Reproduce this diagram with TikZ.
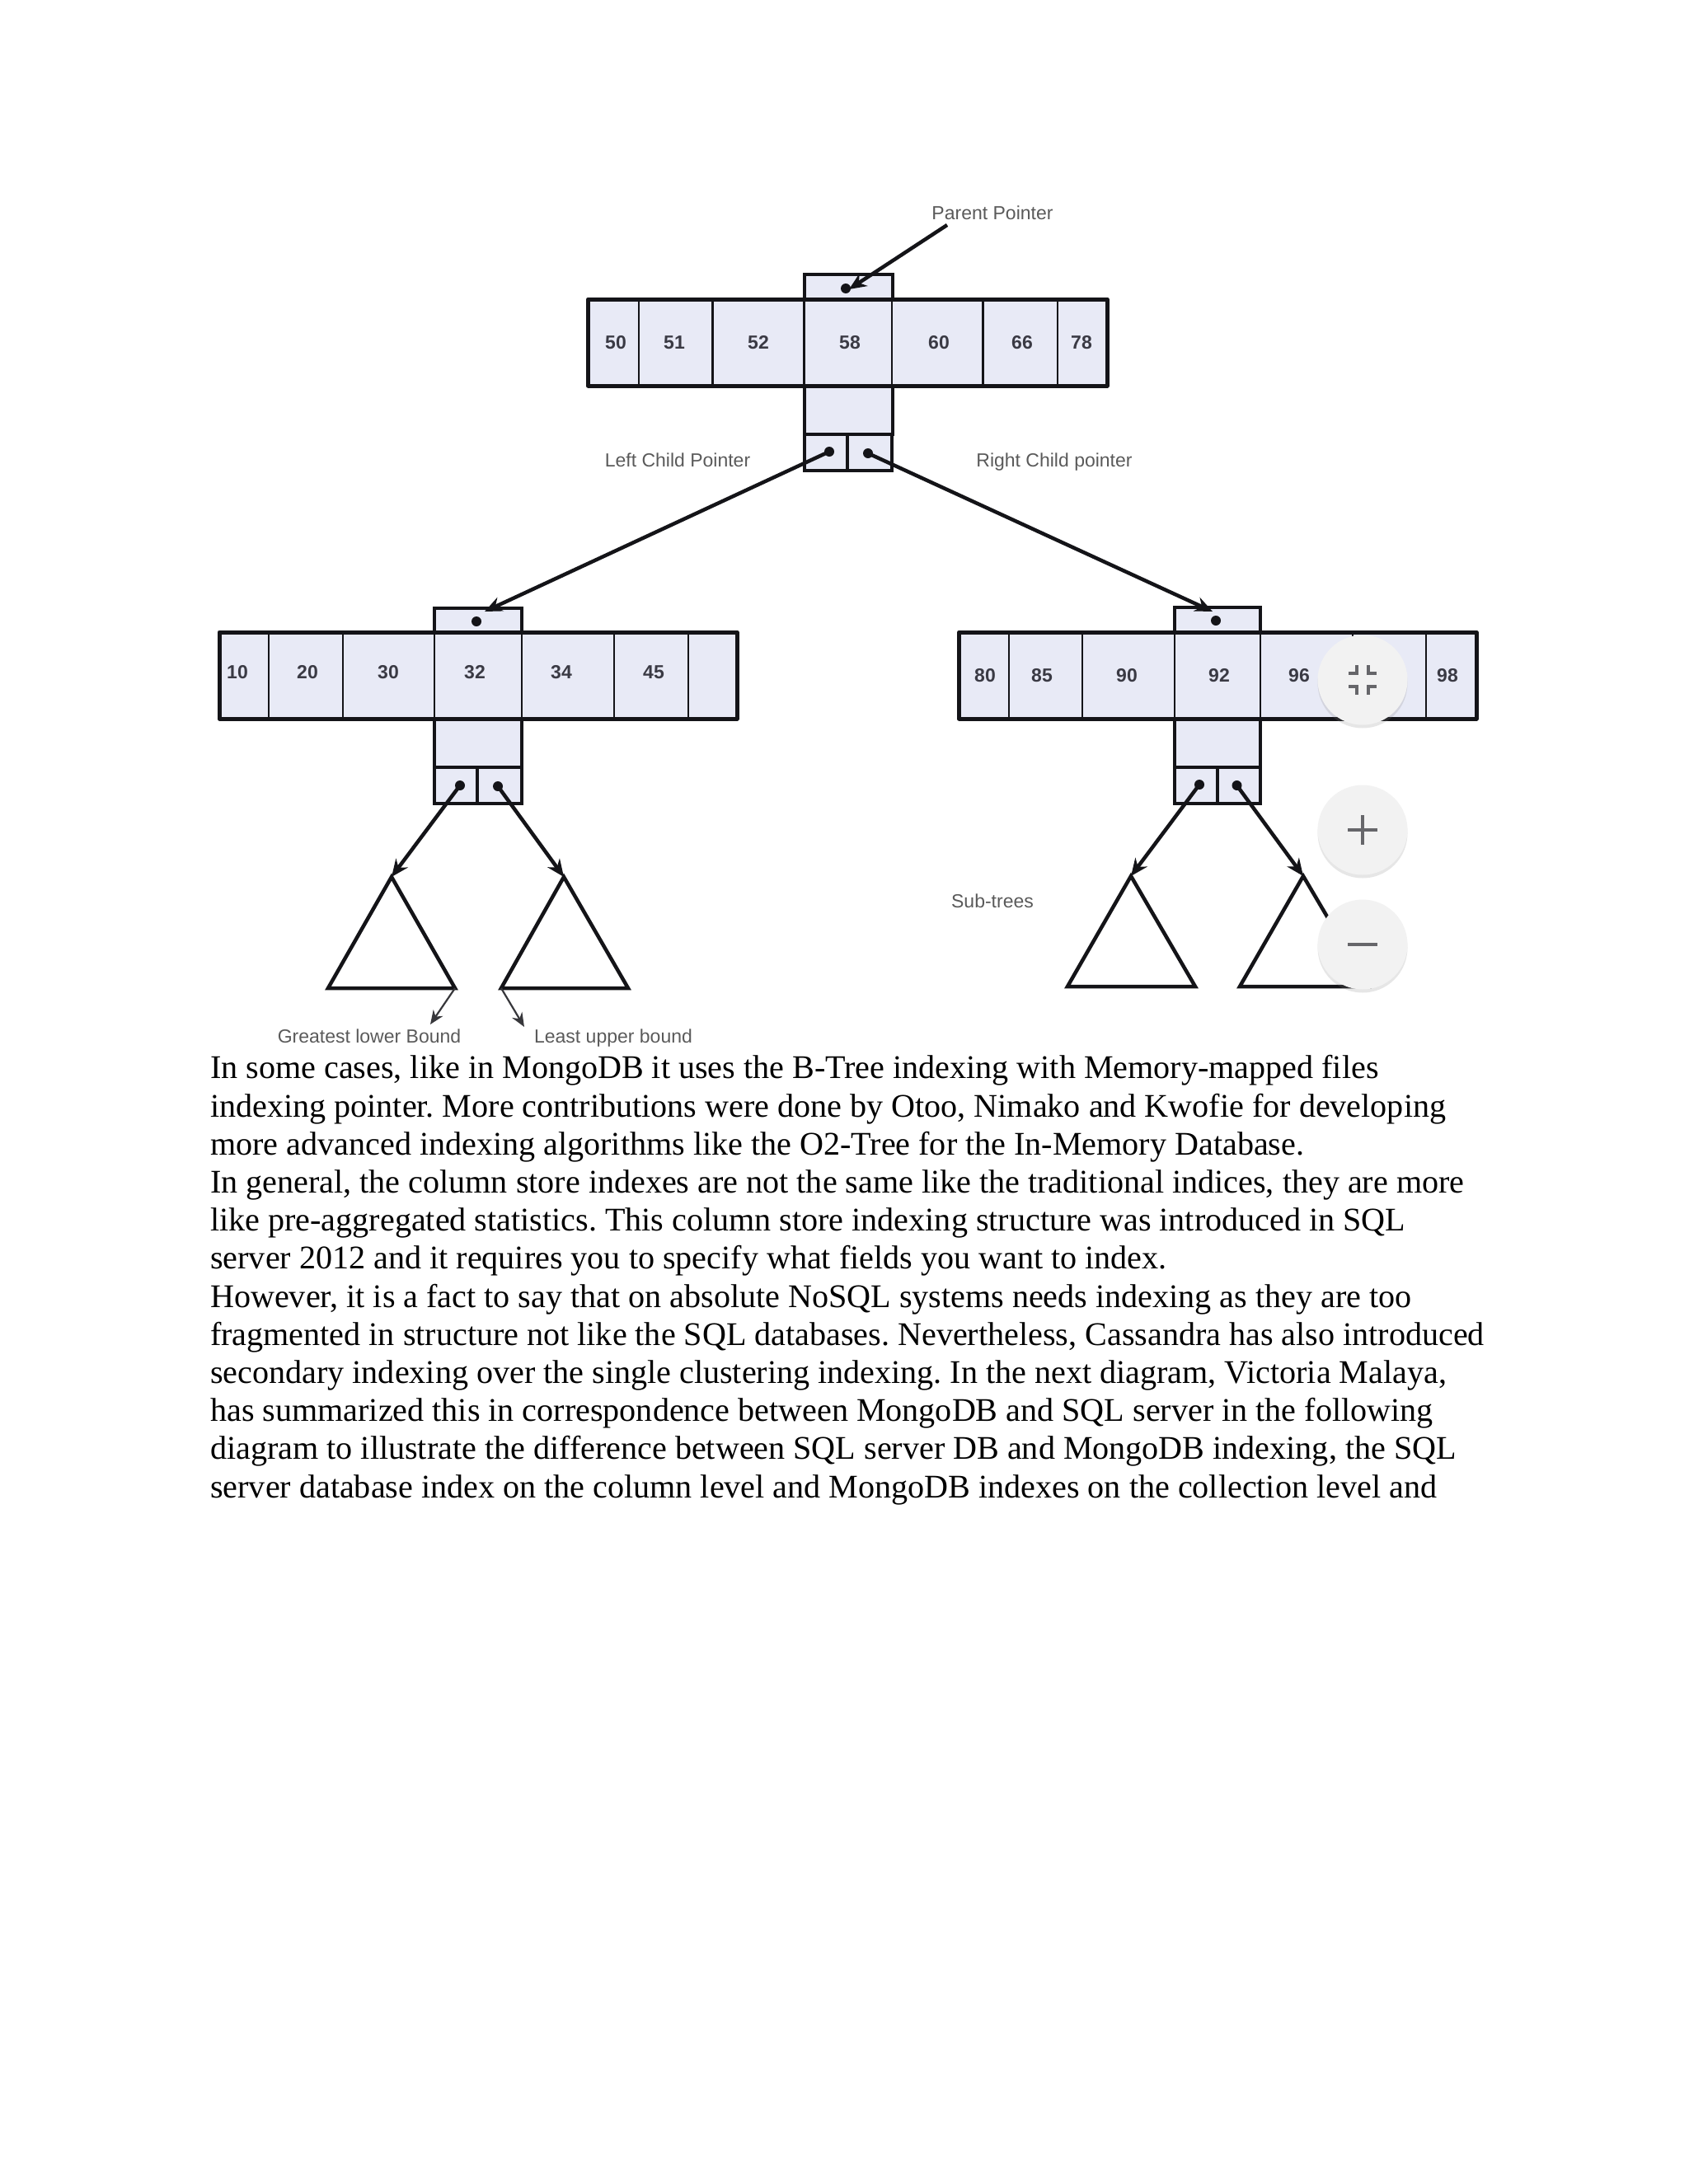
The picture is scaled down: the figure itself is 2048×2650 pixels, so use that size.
\documentclass[tikz,border=0pt]{standalone}
\usepackage{fontspec}
\setmainfont{Liberation Serif}
\newfontfamily\labelfont{Liberation Sans}
\usetikzlibrary{arrows.meta,shadows}
\frenchspacing

\definecolor{cellfill}{HTML}{E8EAF6}
\definecolor{inkline}{HTML}{141418}
\definecolor{numtext}{HTML}{3A3A44}
\definecolor{captext}{HTML}{5A5A5A}
\definecolor{btnfill}{HTML}{F2F2F2}
\definecolor{btnicon}{HTML}{66666A}

\begin{document}
\begin{tikzpicture}[
  x=1pt,y=-1pt,
  cell/.style={rectangle,draw=inkline,fill=cellfill,line width=2.5pt,minimum height=105pt,inner sep=0pt,outer sep=0pt},
  num/.style={inner sep=0pt,text=numtext,font=\labelfont\bfseries\fontsize{23}{28}\selectfont},
  stubbox/.style={rectangle,draw=inkline,fill=cellfill,line width=4pt,inner sep=0pt,outer sep=0pt},
  frame/.style={draw=inkline,line width=5pt,line join=round},
  dot/.style={circle,fill=inkline,inner sep=0pt,minimum size=12pt},
  caption/.style={text=captext,inner sep=0pt,font=\labelfont\fontsize{23}{28}\selectfont},
  arrow/.style={-{Stealth[length=21pt,width=18pt]},draw=inkline,line width=4.5pt},
  smallarrow/.style={-{Stealth[length=17pt,width=14pt]},draw=inkline!85,line width=2.2pt},
  subtree/.style={draw=inkline,line width=4.5pt,line join=miter},
  button/.style={circle,fill=btnfill,minimum size=109pt,inner sep=0pt,drop shadow={shadow xshift=0pt,shadow yshift=-4pt,opacity=.2}},
  icon/.style={draw=btnicon,line width=4pt}
]

\useasboundingbox (0,0) rectangle (2048,2650);

% Root node
\node[stubbox,minimum width=107pt,minimum height=30pt] (rtop) at (1029,348) {};
\node[stubbox,minimum width=107pt,minimum height=59pt] (rmid) at (1029,497.5) {};
\node[stubbox,minimum width=53pt,minimum height=44pt] (rcl) at (1002,549) {};
\node[stubbox,minimum width=54pt,minimum height=44pt] (rcr) at (1055,549) {};
\node[cell,minimum width=62pt] (r0) at (744.5,415.5) {};
\node[cell,minimum width=89pt] (r1) at (819.5,415.5) {};
\node[cell,minimum width=111pt] (r2) at (920,415.5) {};
\node[cell,minimum width=107pt] (r3) at (1029,415.5) {};
\node[cell,minimum width=110pt] (r4) at (1137,415.5) {};
\node[cell,minimum width=91pt] (r5) at (1238,415.5) {};
\node[cell,minimum width=60pt] (r6) at (1313,415.5) {};
\draw[frame] (r0.north west) rectangle (r6.south east);

% Left child
\node[stubbox,minimum width=106pt,minimum height=29pt] (ltop) at (580,752.5) {};
\node[stubbox,minimum width=106pt,minimum height=59pt] (lmid) at (580,901.5) {};
\node[stubbox,minimum width=52pt,minimum height=44pt] (lcl) at (553,953) {};
\node[stubbox,minimum width=54pt,minimum height=44pt] (lcr) at (606,953) {};
\node[cell,minimum width=60pt] (l0) at (296,819.5) {};
\node[cell,minimum width=90pt] (l1) at (371,819.5) {};
\node[cell,minimum width=111pt] (l2) at (471.5,819.5) {};
\node[cell,minimum width=106pt] (l3) at (580,819.5) {};
\node[cell,minimum width=112pt] (l4) at (689,819.5) {};
\node[cell,minimum width=90pt] (l5) at (790,819.5) {};
\node[cell,minimum width=59pt] (l6) at (864.5,819.5) {};
\draw[frame] (l0.north west) rectangle (l6.south east);

% Right child
\node[stubbox,minimum width=104pt,minimum height=30pt] (htop) at (1477,752) {};
\node[stubbox,minimum width=104pt,minimum height=59pt] (hmid) at (1477,901.5) {};
\node[stubbox,minimum width=52pt,minimum height=44pt] (hcl) at (1451,953) {};
\node[stubbox,minimum width=52pt,minimum height=44pt] (hcr) at (1503,953) {};
\node[cell,minimum width=60.5pt] (h0) at (1193.75,819.5) {};
\node[cell,minimum width=89pt] (h1) at (1268.5,819.5) {};
\node[cell,minimum width=112pt] (h2) at (1369,819.5) {};
\node[cell,minimum width=104pt] (h3) at (1477,819.5) {};
\node[cell,minimum width=112pt] (h4) at (1585,819.5) {};
\node[cell,minimum width=89pt] (h5) at (1685.5,819.5) {};
\node[cell,minimum width=61pt] (h6) at (1760.5,819.5) {};
\draw[frame] (h0.north west) rectangle (h6.south east);

% Cell numbers
\foreach \v/\x in {50/747,51/818,52/920,58/1031,60/1139,66/1240,78/1312}
  \node[num] (n\v) at (\x,416) {\v};
\foreach \v/\x in {10/288,20/373,30/471,32/576,34/681,45/793}
  \node[num] (n\v) at (\x,816) {\v};
\foreach \v/\x in {80/1195,85/1264,90/1367,92/1479,96/1576,98/1756}
  \node[num] (n\v) at (\x,820) {\v};

% Pointer dots
\node[dot] (rp) at (1026,350) {};
\node[dot] (rl) at (1006,548) {};
\node[dot] (rr) at (1053,550) {};
\node[dot] (lp) at (578,754) {};
\node[dot] (ll) at (558,953) {};
\node[dot] (lr) at (604,954) {};
\node[dot] (hp) at (1475,753) {};
\node[dot] (hl) at (1455,952) {};
\node[dot] (hr) at (1500.5,953) {};

% Sub-trees
\coordinate (t1a) at (475,1064);
\coordinate (t1l) at (398,1199);
\coordinate (t1r) at (552,1199);
\coordinate (t2a) at (684,1064);
\coordinate (t2l) at (608,1199);
\coordinate (t2r) at (762,1199);
\coordinate (t3a) at (1372,1063);
\coordinate (t3l) at (1295,1197);
\coordinate (t3r) at (1450,1197);
\coordinate (t4a) at (1581,1063);
\coordinate (t4l) at (1504,1197);
\coordinate (t4r) at (1660,1197);
\draw[subtree] (t1a) -- (t1l) -- (t1r) -- cycle;
\draw[subtree] (t2a) -- (t2l) -- (t2r) -- cycle;
\draw[subtree] (t3a) -- (t3l) -- (t3r) -- cycle;
\draw[subtree] (t4a) -- (t4l) -- (t4r) -- cycle;

% Arrows
\coordinate (ppstart) at (1149,273);
\coordinate (rptip) at (1030,351);
\coordinate (lptip) at (588,742);
\coordinate (hptip) at (1471,742);
\draw[arrow] (ppstart) -- (rptip);
\draw[arrow] (rl.center) -- (lptip);
\draw[arrow] (rr.center) -- (hptip);
\draw[arrow] (ll.center) -- (t1a);
\draw[arrow] (lr.center) -- (t2a);
\draw[arrow] (hl.center) -- (t3a);
\draw[arrow] (hr.center) -- (t4a);

% Bound arrows
\coordinate (glb) at (522,1243);
\coordinate (lub) at (636,1246);
\draw[smallarrow] (t1r) -- (glb);
\draw[smallarrow] (t2l) -- (lub);

% Labels
\node[caption] (pp) at (1204,258) {Parent Pointer};
\node[caption] (lcp) at (822,558) {Left Child Pointer};
\node[caption] (rcp) at (1279,561) {Right Child pointer};
\node[caption] (glbl) at (448,1257) {Greatest lower Bound};
\node[caption] (lubl) at (744,1260) {Least upper bound};
\node[caption] (stl) at (1204,1093) {Sub-trees};

% Viewer buttons
\node[button] (bc) at (1653,825) {};
\node[button] (bp) at (1653,1007) {};
\node[button] (bm) at (1653,1146) {};
\foreach \sx in {-1,1}
  \foreach \sy in {-1,1}
    \draw[icon,shift={(bc.center)}] (\sx*17,\sy*8) -- (\sx*7,\sy*8) -- (\sx*7,\sy*18);
\draw[icon,shift={(bp.center)}] (-18,0) -- (18,0) (0,-18) -- (0,18);
\draw[icon,shift={(bm.center)}] (-18,0) -- (18,0);

% Body text
\node[anchor=north west,align=left,inner sep=0pt,font=\fontsize{40.1}{46.2}\selectfont] (body) at (255,1280.5) {%
In some cases, like in MongoDB it uses the B-Tree indexing with Memory-mapped files\\
indexing pointer. More contributions were done by Otoo, Nimako and Kwofie for developing\\
more advanced indexing algorithms like the O2-Tree for the In-Memory Database.\\
In general, the column store indexes are not the same like the traditional indices, they are more\\
like pre-aggregated statistics. This column store indexing structure was introduced in SQL\\
server 2012 and it requires you to specify what fields you want to index.\\
However, it is a fact to say that on absolute NoSQL systems needs indexing as they are too\\
fragmented in structure not like the SQL databases. Nevertheless, Cassandra has also introduced\\
secondary indexing over the single clustering indexing. In the next diagram, Victoria Malaya,\\
has summarized this in correspondence between MongoDB and SQL server in the following\\
diagram to illustrate the difference between SQL server DB and MongoDB indexing, the SQL\\
server database index on the column level and MongoDB indexes on the collection level and};

\end{tikzpicture}
\end{document}
